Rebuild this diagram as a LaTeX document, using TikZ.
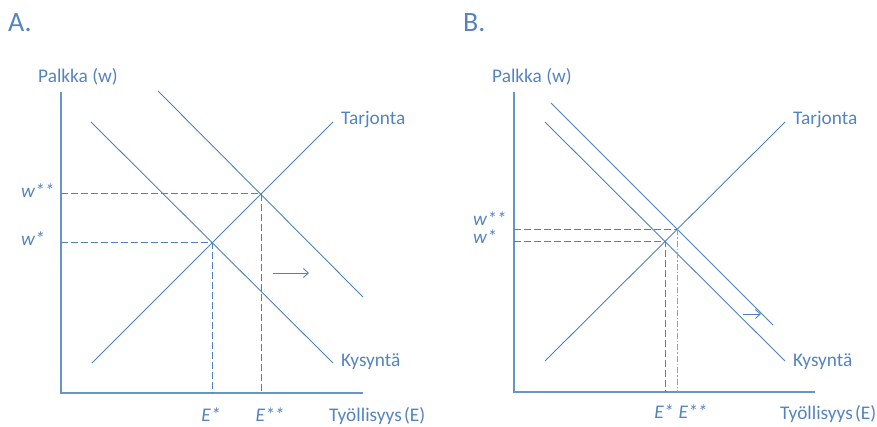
\documentclass[tikz,border=0pt]{standalone}
\usepackage{fontspec}
\setmainfont{Carlito}
\usetikzlibrary{arrows.meta}
\definecolor{ecoblue}{RGB}{79,129,189}
\definecolor{ecotext}{RGB}{84,132,192}
\tikzset{
  curve/.style={draw=ecoblue, line width=0.9pt},
  axisline/.style={draw=ecoblue!85, line width=1.5pt},
  guide/.style={draw=ecoblue, line width=0.9pt, dash pattern=on 7pt off 3pt},
  guidedot/.style={draw=ecoblue!70, line width=0.8pt, dash pattern=on 6pt off 2pt on 1.5pt off 2pt},
  shiftarrow/.style={draw=ecoblue, line width=0.9pt, -{Straight Barb[length=5pt,width=9pt]}},
  lbl/.style={text=ecotext, inner sep=0pt, anchor=base west, font=\fontsize{19.3}{21}\selectfont},
  ilbl/.style={text=ecotext, inner sep=0pt, font=\fontsize{19.3}{21}\selectfont\itshape},
  panel/.style={text=ecotext, inner sep=0pt, anchor=base west, font=\fontsize{28}{30}\selectfont}
}
\begin{document}
\begin{tikzpicture}[x=1pt,y=-1pt]
\useasboundingbox (0,0) rectangle (877,426);
% ---------- Panel A ----------
\node[panel] (tA) at (8,31) {A.};
\coordinate (Aorig) at (61,393);
\coordinate (Atop) at (61,92);
\coordinate (Aright) at (363,393);
\draw[axisline] (Atop) -- (Aorig) -- (Aright);
\node[lbl] (Ay) at (38,82) {Palkka (w)};
\node[lbl] (Ax) at (329,421) {Työllisyys\hspace{0.12em}(E)};
\coordinate (AS1) at (92,363);
\coordinate (AS2) at (333,122);
\coordinate (AD1a) at (91,122);
\coordinate (AD1b) at (333,363);
\coordinate (AD2a) at (158,91);
\coordinate (AD2b) at (363,297);
\draw[curve] (AS1) -- (AS2);
\draw[curve] (AD1a) -- (AD1b);
\draw[curve] (AD2a) -- (AD2b);
\node[lbl] (AT) at (341,124) {Tarjonta};
\node[lbl] (AK) at (341,366) {Kysyntä};
\coordinate (AE1) at (212,242.5);
\coordinate (AE2) at (261,193.5);
\draw[guide] (Atop |- AE1) -- (AE1) -- (AE1 |- Aorig);
\draw[guide] (Atop |- AE2) -- (AE2) -- (AE2 |- Aorig);
\node[ilbl, anchor=base west] (Aw2) at (21,197) {w**};
\node[ilbl, anchor=base west] (Aw1) at (21,245) {w*};
\node[ilbl, anchor=base] (AEs1) at (211,421) {E*};
\node[ilbl, anchor=base] (AEs2) at (270,421) {E**};
\coordinate (Aarr1) at (273,273);
\coordinate (Aarr2) at (309,273);
\draw[shiftarrow] (Aarr1) -- (Aarr2);
% ---------- Panel B ----------
\node[panel] (tB) at (463,31) {B.};
\coordinate (Borig) at (514,392);
\coordinate (Btop) at (514,92);
\coordinate (Bright) at (815,392);
\draw[axisline] (Btop) -- (Borig) -- (Bright);
\node[lbl] (By) at (492,82) {Palkka (w)};
\node[lbl] (Bx) at (780,419) {Työllisyys\hspace{0.12em}(E)};
\coordinate (BS1) at (545,361);
\coordinate (BS2) at (785,122);
\coordinate (BD1a) at (545,122);
\coordinate (BD1b) at (785,361);
\coordinate (BD2a) at (551,103);
\coordinate (BD2b) at (773,325);
\draw[curve] (BS1) -- (BS2);
\draw[curve] (BD1a) -- (BD1b);
\draw[curve] (BD2a) -- (BD2b);
\node[lbl] (BT) at (793,124) {Tarjonta};
\node[lbl] (BK) at (793,366) {Kysyntä};
\coordinate (BE1) at (665,241);
\coordinate (BE2) at (677,229);
\draw[guide] (Btop |- BE1) -- (BE1) -- (BE1 |- Borig);
\draw[guide] (Btop |- BE2) -- (BE2);
\draw[guidedot] (BE2) -- (BE2 |- Borig);
\node[ilbl, anchor=base west] (Bw2) at (473,225) {w**};
\node[ilbl, anchor=base west] (Bw1) at (473,243) {w*};
\node[ilbl, anchor=base] (BEs1) at (664,418) {E*};
\node[ilbl, anchor=base] (BEs2) at (693,418) {E**};
\coordinate (Barr1) at (743,314);
\coordinate (Barr2) at (761,314);
\draw[shiftarrow] (Barr1) -- (Barr2);
\end{tikzpicture}
\end{document}
